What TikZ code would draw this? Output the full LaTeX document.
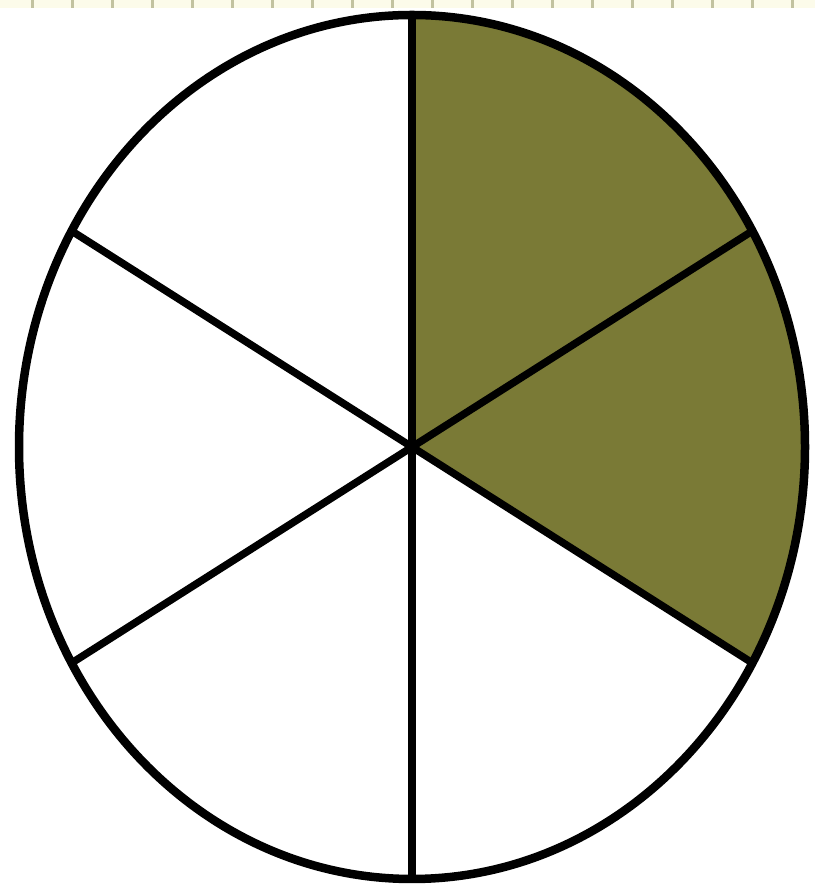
\documentclass[tikz,border=0pt]{standalone}
\usepackage{tikz}
\usetikzlibrary{calc}
\definecolor{pieOlive}{HTML}{7A7A36}
\definecolor{rulerCream}{HTML}{FCFBEA}
\definecolor{rulerTick}{HTML}{C2C2A0}

\begin{document}
\begin{tikzpicture}[
  x=0.02cm, y=0.02cm,
  rim/.style={draw=black, line width=0.17cm},
  spoke/.style={draw=black, line width=0.15cm, line cap=butt},
  tick/.style={draw=rulerTick, line width=0.05cm}
]
\useasboundingbox (0,0) rectangle (815,888);
% ruler strip along the top
\fill[rulerCream] (0,880) rectangle (815,888);
\foreach \i in {0,...,19}
  \draw[tick] ({32.7+40*\i},880) -- ({32.7+40*\i},888);
\coordinate (hub) at (412,441);
% shaded two sixths
\fill[pieOlive] (hub) -- ($(hub)+(90:393 and 432)$) arc[start angle=90, end angle=-30, x radius=393, y radius=432] -- cycle;
\foreach \a in {30,150,210,330}
  \draw[spoke] (hub) -- ($(hub)+(\a:393 and 432)$);
\draw[spoke] ($(hub)+(0,432)$) -- ($(hub)+(0,-432)$);
\draw[rim] (hub) ellipse[x radius=393, y radius=432];
\end{tikzpicture}
\end{document}
